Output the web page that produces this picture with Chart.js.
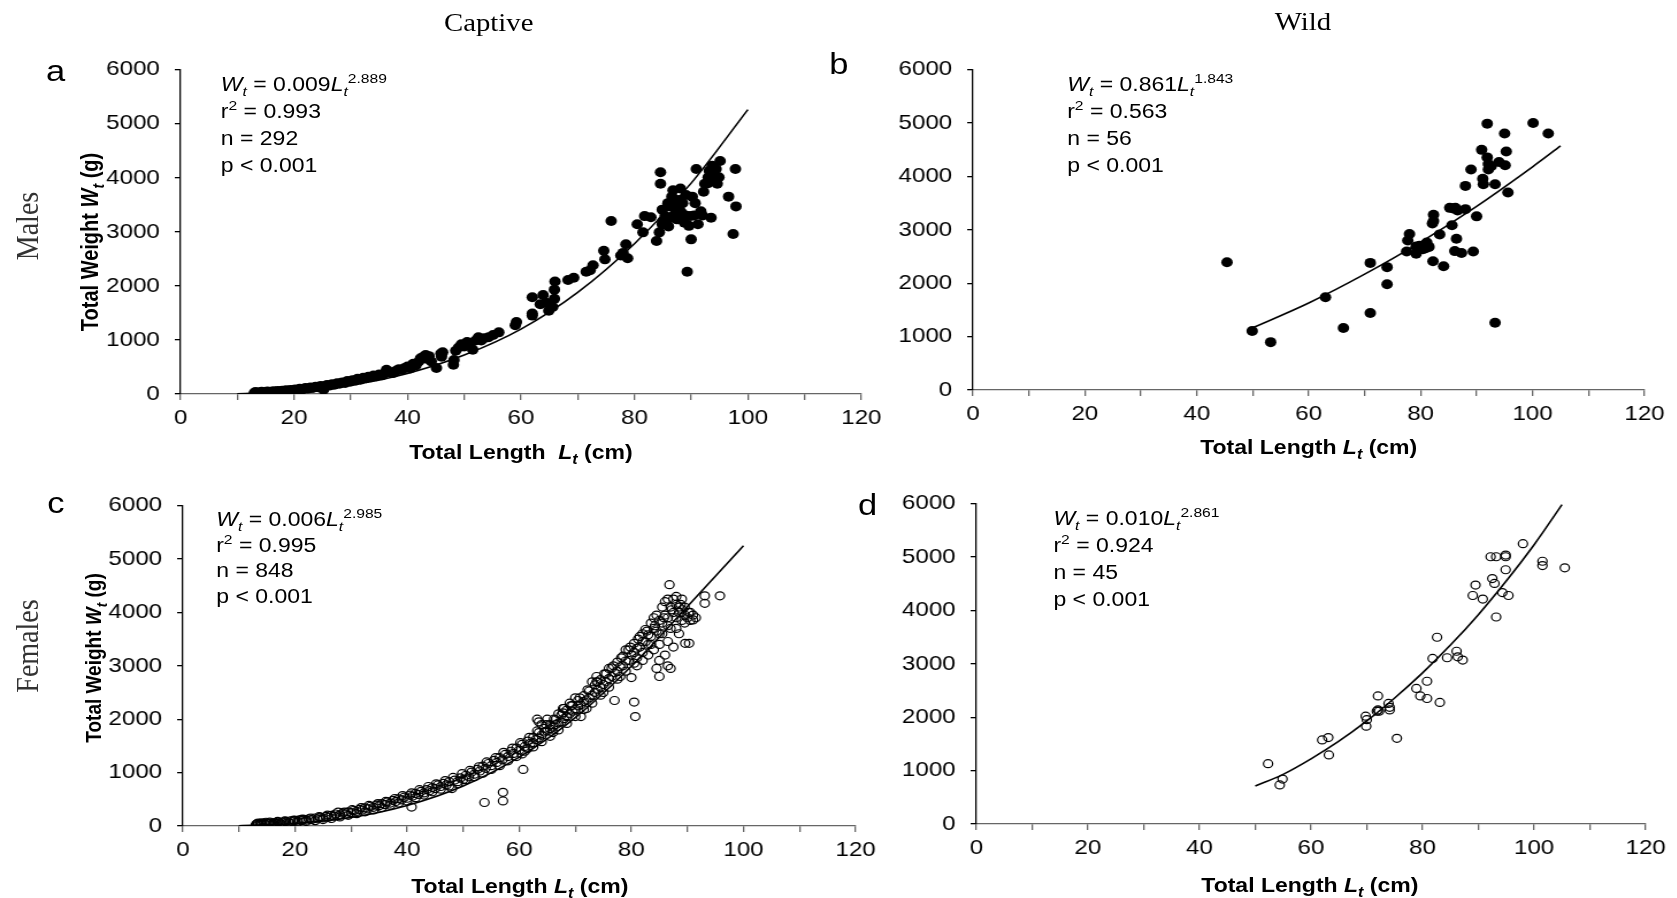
<!DOCTYPE html>
<html>
<head>
<meta charset="utf-8">
<script src="https://cdn.jsdelivr.net/npm/chart.js@4.4.1/dist/chart.umd.min.js"></script>
<style>
body{margin:0;background:#fff;width:1677px;height:898px;overflow:hidden;font-family:"Liberation Sans",Arial,sans-serif;}
#fig{position:absolute;left:0;top:0;width:1459px;height:898px;transform:scaleX(1.15);transform-origin:0 0;}
canvas{position:absolute;}
.t{position:absolute;white-space:nowrap;color:#000;}
.col{font-family:"Liberation Serif","Times New Roman",serif;font-size:25px;transform:translate(-50%,-50%);}
.row{font-family:"Liberation Serif","Times New Roman",serif;font-size:28px;color:#333;transform:translate(-50%,-50%) rotate(-90deg);}
.lab{font-size:30px;transform:translateY(-50%);}
.eq{font-size:20px;line-height:27px;}
.eq sub,.eq sup{font-size:0.68em;line-height:0;}
.eq sub{font-style:italic;}
.xt{font-weight:bold;font-size:20px;transform:translate(-50%,-50%);}
.yt{font-weight:bold;font-size:20px;transform:translate(-50%,-50%) rotate(-90deg);}
.xt sub,.yt sub{font-size:0.7em;line-height:0;font-style:italic;}
</style>
</head>
<body>
<div id="fig">
  <div class="t col" style="left:425px;top:23px">Captive</div>
  <div class="t col" style="left:1133px;top:22px">Wild</div>
  <div class="t row" style="left:24px;top:226px">Males</div>
  <div class="t row" style="left:24px;top:646px">Females</div>

  <div class="t lab" style="left:40px;top:71px">a</div>
  <div class="t lab" style="left:721px;top:64px">b</div>
  <div class="t lab" style="left:41px;top:503px">c</div>
  <div class="t lab" style="left:746px;top:505px">d</div>

  <canvas id="pa"></canvas>
  <canvas id="pb"></canvas>
  <canvas id="pc"></canvas>
  <canvas id="pd"></canvas>

  <div class="t eq" style="left:192px;top:71px"><i>W</i><sub>t</sub> = 0.009<i>L</i><sub>t</sub><sup>2.889</sup><br>r<sup>2</sup> = 0.993<br>n = 292<br>p &lt; 0.001</div>
  <div class="t eq" style="left:928px;top:71px"><i>W</i><sub>t</sub> = 0.861<i>L</i><sub>t</sub><sup>1.843</sup><br>r<sup>2</sup> = 0.563<br>n = 56<br>p &lt; 0.001</div>
  <div class="t eq" style="left:188px;top:507px;line-height:25.5px"><i>W</i><sub>t</sub> = 0.006<i>L</i><sub>t</sub><sup>2.985</sup><br>r<sup>2</sup> = 0.995<br>n = 848<br>p &lt; 0.001</div>
  <div class="t eq" style="left:916px;top:505px"><i>W</i><sub>t</sub> = 0.010<i>L</i><sub>t</sub><sup>2.861</sup><br>r<sup>2</sup> = 0.924<br>n = 45<br>p &lt; 0.001</div>

  <div class="t yt" style="left:79px;top:242px">Total Weight <i>W</i><sub>t</sub> (g)</div>
  <div class="t yt" style="left:82px;top:658px;font-size:19px">Total Weight <i>W</i><sub>t</sub> (g)</div>
  <div class="t xt" style="left:453px;top:452px">Total Length&nbsp; <i>L</i><sub>t</sub> (cm)</div>
  <div class="t xt" style="left:1138px;top:447px">Total Length <i>L</i><sub>t</sub> (cm)</div>
  <div class="t xt" style="left:452px;top:886px">Total Length <i>L</i><sub>t</sub> (cm)</div>
  <div class="t xt" style="left:1139px;top:885px">Total Length <i>L</i><sub>t</sub> (cm)</div>
</div>

<script>
// axis ranges and tick steps (same for all four panels)
const xRange = [0, 120];
const yRange = [0, 6000];
const xStep = 10;
const xLabelStep = 20;
const yStep = 1000;

// (a) captive males: [length cm, weight g]
const captiveMales = [
  [13.0,20],[13.2,35],[13.5,15],[13.8,30],[14.0,25],[14.3,40],[14.6,20],[15.0,35],[15.3,45],[15.7,30],
  [16.0,40],[16.4,50],[16.8,35],[17.1,55],[17.5,45],[17.9,60],[18.2,50],[18.6,70],[19.0,60],[19.4,75],
  [19.8,65],[20.2,85],[20.6,75],[21.0,95],[21.5,85],[22.0,110],[22.4,100],[22.9,120],[23.3,110],[23.8,135],
  [24.2,125],[24.7,150],[25.2,80],[25.3,140],[25.8,165],[26.2,155],[26.7,180],[27.1,170],[27.6,200],[28.0,190],
  [28.5,215],[29.0,205],[29.4,240],[29.9,225],[30.3,255],[30.8,245],[31.2,280],[31.7,265],[32.2,300],[32.7,290],
  [33.1,320],[33.6,310],[34.0,340],[34.5,330],[35.0,360],[35.5,345],[36.0,380],[36.3,450],[37.0,400],[37.5,390],
  [38.0,430],[38.5,460],[39.0,445],[39.5,480],[40.0,510],[40.5,470],[41.0,560],[41.5,530],[42.0,600],[42.3,660],
  [42.8,690],[43.2,720],[43.5,650],[43.8,700],[44.2,600],[45.1,480],[45.9,750],[46.0,690],[46.2,770],[48.1,540],
  [48.2,630],[48.5,800],[49.0,860],[49.5,920],[50.0,880],[50.5,960],[51.0,930],[51.5,820],[52.0,990],[52.5,1050],
  [53.0,990],[53.5,1030],[54.3,1050],[55.1,1090],[56.1,1140],
  [59.0,1270],[59.2,1330],[62.0,1450],[62.0,1490],[62.0,1790],[63.4,1660],[63.9,1830],[64.4,1690],[64.9,1540],[65.6,1610],
  [65.9,1760],[65.9,1930],[66.0,2080],[68.3,2110],[69.3,2150],[71.5,2260],[72.2,2290],[72.7,2380],[74.6,2650],[74.8,2490],
  [75.9,3200],[77.6,2560],[78.0,2610],[78.5,2770],[78.8,2510],
  [80.5,3140],[81.5,2990],[81.8,3290],[82.9,3270],[83.9,2830],[84.4,2990],[84.6,3890],[84.6,4100],[84.9,3410],[84.9,3140],
  [85.4,3290],[85.9,3230],[85.9,3530],[86.3,3470],[86.6,3650],[86.8,3770],[86.8,3290],[87.3,3410],[87.5,3230],[87.8,3590],
  [88.1,3800],[88.3,3350],[88.5,3530],[88.8,3170],[89.1,3680],[89.3,2260],[89.6,3110],[89.8,3290],[90.0,2860],[90.2,3650],
  [90.7,3530],[90.9,4160],[91.2,3140],[91.7,3380],[92.2,3740],[92.4,3890],[93.0,4010],[93.2,4130],[93.5,3260],[93.7,4220],
  [93.9,3950],[94.1,4070],[94.4,4160],[94.6,3890],[94.9,4010],[95.1,4310],[96.6,3650],[97.4,2960],[97.8,4160],[97.9,3470],
  [87.0,3500],[88.0,3400],[89.0,3300],[86.0,3100],[85.0,3200],[90.5,3300],[92.0,3300],[93.0,3900],[94.0,4000]
];
const captiveMalesFit = [[10,3],[20,50],[30,165],[40,380],[50,720],[60,1200],[70,1880],[80,2780],[90,3900],[100,5260]];

// (b) wild males
const wildMales = [
  [45.4,2393],[49.9,1104],[53.2,896],[63.0,1736],[66.2,1160],[71.0,2380],[71.0,1442],[74.0,2301],[74.0,1982],[77.5,2595],
  [77.7,2798],[78.0,2920],[79.2,2687],[79.2,2552],[80.4,2638],[80.9,2718],[81.1,2761],[80.9,2656],[82.2,2411],[82.1,3117],
  [82.3,3282],[82.3,3166],[83.4,2914],[84.1,2319],[85.2,3411],[85.6,3086],[86.1,2601],[86.4,2834],[86.2,3411],[86.6,3362],
  [87.3,2564],[88.0,3822],[88.0,3387],[89.0,4129],[89.4,2595],[90.0,3252],[90.9,4497],[91.1,3957],[91.2,3853],[91.9,4988],
  [91.9,4356],[92.1,4233],[92.1,4129],[92.6,4190],[93.3,3853],[93.3,1258],[94.0,4270],[95.0,4804],[95.1,4209],[95.3,4466],
  [95.6,3699],[100.1,5000],[102.8,4804],[79.8,2700],[81.5,2680],[85.8,3400]
];
const wildMalesFit = [[50,1165],[60,1630],[70,2170],[80,2770],[90,3440],[100,4180],[105,4570]];

// (c) captive females
const captiveFemales = [
  [13.0,20],[13.2,40],[13.5,30],[13.8,45],[14.1,25],[14.4,50],[14.7,35],[15.0,55],[15.3,40],[15.6,60],
  [16.0,45],[16.3,65],[16.6,50],[17.0,70],[17.3,55],[17.7,75],[18.0,60],[18.4,85],[18.8,70],[19.2,95],
  [19.6,80],[20.0,105],[20.4,90],[20.8,115],[21.2,100],[21.6,125],[22.0,110],[22.5,135],[23.0,120],[23.5,150],
  [24.0,135],[24.5,165],[25.0,150],[25.5,180],[26.0,165],[26.5,200],[27.0,185],[27.7,260],[28.0,210],[28.5,240],
  [29.0,225],[29.5,265],[30.0,250],[30.5,290],[31.0,275],[31.5,310],[32.0,300],[32.5,340],[33.0,320],[33.5,370],
  [34.0,350],[34.5,390],[35.0,380],[35.5,420],[36.0,400],[36.5,450],[37.0,430],[37.5,480],[38.0,460],[38.5,510],
  [39.0,490],[39.5,540],[40.0,520],[40.5,580],[40.8,355],[41.0,560],[41.5,610],[42.0,590],[42.5,650],[43.0,620],
  [43.5,680],[44.0,660],[44.5,720],[45.0,700],[45.5,770],[46.0,740],[46.5,800],[47.0,770],[47.5,830],[48.0,700],
  [48.5,860],[49.0,830],[49.5,900],[50.0,870],[50.5,950],[51.0,920],[51.5,1010],[52.0,970],[52.5,1060],[53.0,1030],
  [53.5,1120],[53.8,440],[54.0,1080],[54.5,1170],[55.0,1130],[55.5,1230],[56.0,1190],[56.5,1280],[57.0,1240],[57.1,470],
  [57.1,630],[57.5,1340],[58.0,1300],[58.5,1400],[59.0,1360],[59.5,1460],[60.0,1420],[60.7,1060],[60.5,1530],[61.0,1490],
  [61.5,1590],[62.0,1550],[62.5,1660],[63.0,1620],[63.2,2000],[63.5,1750],[63.5,1950],[64.0,1700],[64.5,1830],[65.0,1780],
  [65.5,1900],[66.0,1850],[66.5,1990],[67.0,1930],[67.5,2080],[67.8,2200],[68.0,2010],[68.5,2170],[69.0,2100],[69.5,2260],
  [70.0,2190],[70.5,2350],[71.0,2270],[71.5,2440],[72.0,2360],[72.5,2530],[73.0,2450],[73.5,2640],[73.8,2800],[74.0,2550],
  [74.5,2740],[75.0,2650],[75.5,2850],[76.0,2760],[76.5,2960],[77.0,2870],[77.0,2350],[77.5,3070],[78.0,2980],[78.5,3180],
  [79.0,3090],[79.5,3300],[80.0,3200],[80.0,2780],[80.5,3420],[80.5,2320],[80.7,2050],[81.0,3330],[81.0,3000],[81.5,3550],
  [82.0,3450],[82.0,3100],[82.5,3680],[83.0,3580],[83.0,3200],[83.5,3800],[84.0,3700],[84.0,3300],[84.5,2950],[84.5,3950],
  [85.0,3850],[85.0,3400],[85.0,2800],[85.5,4100],[85.5,3600],[86.0,3950],[86.0,3200],[86.5,4250],[86.5,3455],[86.8,4520],
  [87.0,4100],[87.0,3700],[87.0,2950],[87.5,4250],[88.0,3900],[88.0,4150],[88.5,4000],[88.5,3600],[89.0,4250],[89.0,3850],
  [89.6,3420],[89.5,4100],[90.0,3900],[90.3,3420],[90.5,3850],[91.0,3860],[93.1,4170],[93.1,4310],[95.8,4310],
  // second pass over the dense band (upper and lower edge of the cloud)
  [13.4,55],[14.0,60],[14.8,70],[15.5,75],[16.2,30],[16.9,85],[17.5,40],[18.2,95],[19.0,55],[19.8,110],
  [20.5,70],[21.3,130],[22.0,85],[22.8,150],[23.6,100],[24.3,175],[25.0,120],[25.8,205],[26.5,140],[27.2,225],
  [28.0,170],[28.8,260],[29.5,200],[30.2,305],[31.0,230],[31.8,345],[32.5,265],[33.2,385],[34.0,300],[34.8,420],
  [35.5,345],[36.2,460],[37.0,390],[37.8,515],[38.5,430],[39.2,570],[40.0,470],[40.8,620],[41.5,530],[42.2,680],
  [43.0,580],[43.8,740],[44.5,640],[45.2,790],[46.0,690],[46.8,850],[47.5,750],[48.2,910],[49.0,790],[49.8,980],
  [50.5,870],[51.2,1040],[52.0,920],[52.8,1110],[53.5,990],[54.2,1200],[55.0,1060],[55.8,1280],[56.5,1130],[57.2,1380],
  [58.0,1220],[58.8,1460],[59.5,1300],[60.2,1560],[61.0,1400],[61.8,1660],[62.5,1480],[63.2,1780],[64.0,1580],[64.8,1900],
  [65.5,1680],[66.2,2000],[67.0,1800],[67.8,2120],[68.5,1920],[69.2,2250],[70.0,2050],[70.8,2400],[71.5,2180],[72.2,2550],
  [73.0,2300],[73.8,2700],[74.5,2450],[75.2,2850],[76.0,2600],[76.8,3000],[77.5,2750],[78.2,3150],[79.0,2900],[79.8,3350],
  [80.5,3050],[81.2,3500],[82.0,3250],[82.8,3650],[83.5,3400],[84.2,3750],[85.0,3600],[85.8,3900],[86.5,3750],[87.2,4050],
  [88.0,3700],[88.8,4150],[89.5,3950],[90.2,4000],[91.5,3900],
  // third pass, the wider part of the cloud above 60 cm
  [60.5,1350],[61.5,1450],[62.5,1560],[63.5,1650],[64.5,1760],[65.5,1820],[66.5,1900],[67.5,1950],[68.5,2050],[69.5,2150],
  [70.5,2250],[71.5,2330],[72.5,2400],[73.5,2500],[74.5,2600],[75.5,2700],[76.5,2800],[77.5,2900],[78.5,3000],[79.5,3100],
  [80.5,3250],[81.5,3350],[82.5,3450],[83.5,3550],[84.5,3650],[85.5,3800],[86.5,3900],[87.5,4000],[88.5,4100],[89.5,3800],
  [73.0,2700],[74.0,2700],[75.0,2500],[76.0,2950],[78.0,2800],[79.0,3300],[81.0,3150],[82.0,3600],[83.0,3400],[84.0,3900],
  [85.0,3100],[86.0,4200],[86.5,3000],[87.5,3350],[88.0,4300],[89.0,4050],[90.5,4000],[91.0,3950],[68.0,2200],[69.0,2300],
  [70.0,2400],[71.0,2050],[72.0,2200],[66.0,1750],[67.0,2100],[65.0,2000],[64.0,1900]
];
const captiveFemalesFit = [[10,5],[20,47],[30,160],[40,385],[50,750],[60,1290],[70,2030],[80,2990],[90,4110],[100,5250]];

// (d) wild females
const wildFemales = [
  [52.3,1129],[54.4,732],[54.9,842],[62.0,1575],[63.1,1618],[63.2,1294],[69.8,2020],[70.0,1953],[69.9,1831],[72.0,2399],
  [71.8,2112],[72.0,2136],[73.9,2258],[74.1,2185],[74.1,2136],[75.4,1605],[78.9,2539],[79.6,2399],[80.8,2673],[80.8,2350],
  [81.8,3101],[82.6,3497],[83.1,2277],[84.4,3113],[86.1,3235],[86.3,3131],[87.2,3070],[89.0,4279],[89.5,4474],[90.8,4212],
  [92.2,5005],[92.5,4596],[92.9,4505],[93.2,5005],[93.2,3876],[94.3,4334],[94.9,5036],[94.9,5005],[94.9,4761],[95.4,4279],
  [98.0,5249],[101.5,4920],[101.5,4840],[105.5,4798],[72.2,2112]
];
const wildFemalesFit = [[50,710],[55,930],[60,1220],[65,1550],[70,1930],[75,2360],[80,2830],[85,3350],[90,3920],[95,4550],[100,5230],[105,5980]];

const tickFont = {family: '"Liberation Sans", Arial, sans-serif', size: 21};

function toXY(arr) {
  return arr.map(p => ({x: p[0], y: p[1]}));
}

// box = chart area in figure coords (before the horizontal stretch)
function panel(id, box, dots, fit, hollow) {
  const cv = document.getElementById(id);
  const w = Math.round(box.r - box.l) + 140;
  const h = Math.round(box.b - box.t) + 75;
  cv.width = w;
  cv.height = h;
  cv.style.left = (box.l - 100) + 'px';
  cv.style.top = (box.t - 20) + 'px';

  return new Chart(cv, {
    type: 'scatter',
    data: {
      datasets: [{
        data: toXY(fit),
        showLine: true,
        pointRadius: 0,
        borderColor: '#000',
        borderWidth: 1.6,
        cubicInterpolationMode: 'monotone'
      }, {
        data: toXY(dots),
        pointRadius: hollow ? 4 : 5,
        pointBackgroundColor: hollow ? 'rgba(0,0,0,0)' : '#000',
        pointBorderColor: '#000',
        pointBorderWidth: hollow ? 1.2 : 0
      }]
    },
    options: {
      responsive: false,
      animation: false,
      devicePixelRatio: 1,
      layout: {padding: {top: 20, right: 40, left: 0, bottom: 0}},
      plugins: {legend: {display: false}, tooltip: {enabled: false}},
      scales: {
        x: {
          type: 'linear',
          min: xRange[0], max: xRange[1],
          afterFit: s => { s.height = 55; },
          border: {display: true, color: '#666', width: 1.3},
          grid: {drawOnChartArea: false, drawTicks: true, tickLength: 6, color: '#666', lineWidth: 1.3},
          ticks: {
            stepSize: xStep, autoSkip: false, maxRotation: 0, padding: 6,
            color: '#000', font: tickFont,
            callback: v => (v % xLabelStep === 0 ? String(v) : '')
          }
        },
        y: {
          type: 'linear',
          min: yRange[0], max: yRange[1],
          afterFit: s => { s.width = 100; },
          border: {display: true, color: '#000', width: 1.3},
          grid: {drawOnChartArea: false, drawTicks: true, tickLength: 5, color: '#000', lineWidth: 1.3},
          ticks: {stepSize: yStep, padding: 13, color: '#000', font: tickFont, callback: v => String(v)}
        }
      }
    }
  });
}

panel('pa', {l: 157.4, r: 749.6, t: 64, b: 394}, captiveMales, captiveMalesFit, false);
panel('pb', {l: 846.1, r: 1430.4, t: 64, b: 390}, wildMales, wildMalesFit, false);
panel('pc', {l: 159.1, r: 744.3, t: 500, b: 826}, captiveFemales, captiveFemalesFit, true);
panel('pd', {l: 848.7, r: 1430.4, t: 498, b: 824}, wildFemales, wildFemalesFit, true);
</script>
</body>
</html>
